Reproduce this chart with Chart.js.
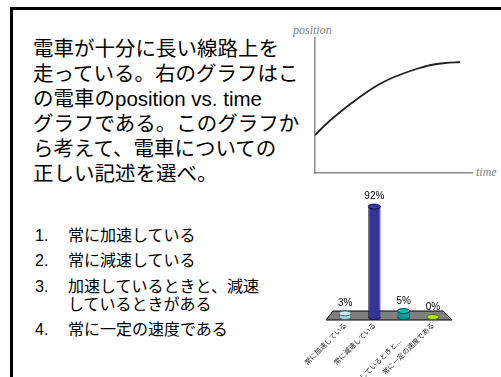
<!DOCTYPE html>
<html>
<head>
<meta charset="utf-8">
<script src="https://cdn.jsdelivr.net/npm/chart.js@4"></script>
<style>
  html, body { margin: 0; padding: 0; background: #fff; width: 501px; height: 377px; overflow: hidden; }
  body { position: relative; font-family: "Liberation Sans", "Noto Sans CJK JP", sans-serif; color: #000; }
  #frame { position: absolute; left: 10px; top: 7px; width: 600px; height: 500px; border-left: 3px solid #000; border-top: 3px solid #000; }
  #question { position: absolute; left: 33px; top: 36px; font-size: 20.5px; line-height: 25px; white-space: nowrap; }
  .item { position: absolute; left: 35px; font-size: 16px; line-height: 18px; white-space: nowrap; }
  .item .txt { position: absolute; left: 33px; top: 0; }
  .ax { position: absolute; font-family: "Liberation Serif", "DejaVu Serif", serif; font-style: italic; font-size: 12px; color: #808080; }
  #ptBox { position: absolute; left: 300px; top: 30px; width: 180px; height: 150px; }
  #pollBox { position: absolute; left: 290px; top: 185px; width: 180px; height: 200px; }
</style>
</head>
<body>
<div id="frame"></div>
<div id="question">電車が十分に長い線路上を<br>走っている。右のグラフはこ<br>の電車のposition vs. time<br>グラフである。このグラフか<br>ら考えて、電車についての<br>正しい記述を選べ。</div>

<div class="item" style="top:227px">1.<span class="txt">常に加速している</span></div>
<div class="item" style="top:252px">2.<span class="txt">常に減速している</span></div>
<div class="item" style="top:278px">3.<span class="txt">加速しているときと、減速<br>しているときがある</span></div>
<div class="item" style="top:321px">4.<span class="txt">常に一定の速度である</span></div>

<span class="ax" style="left:293px; top:23px;">position</span>
<span class="ax" style="left:476px; top:165px;">time</span>

<div id="ptBox"><canvas id="ptChart"></canvas></div>
<div id="pollBox"><canvas id="pollChart"></canvas></div>

<script>
// position vs. time のグラフ（読み取り値）
const timeVals = [0, 1.45, 2.9, 4.35, 5.8, 7.25, 8.7, 10.15, 11.6, 13.05, 14.5];
const positionVals = [3.8, 5.2, 6.4, 7.5, 8.5, 9.3, 9.9, 10.4, 10.8, 11.0, 11.1];

// 投票結果（3番目のラベルは1行下にずれて表示される）
const choices = ['常に加速している', '常に減速している', ['', '加速しているときと...　　'], '常に一定の速度である'];
const percents = [3, 92, 5, 0];
const barColors = ['#a8d4de', '#333399', '#009999', '#99cc00'];
const topColors = ['#cfeaf0', '#3a3aa6', '#22b3b3', '#b8e02a'];
const edgeColors = ['#406870', '#111144', '#004d4d', '#4d6600'];

Chart.defaults.animation = false;
Chart.defaults.font.family = '"Liberation Sans", "Noto Sans CJK JP", sans-serif';

const ptChart = new Chart(document.getElementById('ptChart'), {
    type: 'scatter',
    data: {
        datasets: [{
            data: timeVals.map((t, i) => ({ x: t, y: positionVals[i] })),
            showLine: true,
            borderColor: '#222222',
            borderWidth: 1.8,
            pointRadius: 0,
            cubicInterpolationMode: 'monotone'
        }]
    },
    options: {
        responsive: true,
        maintainAspectRatio: false,
        layout: { padding: { left: 15, top: 8, right: 8, bottom: 7 } },
        plugins: { legend: { display: false }, tooltip: { enabled: false } },
        scales: {
            x: {
                min: 0, max: 15.7,
                grid: { display: false, drawTicks: false },
                ticks: { display: false },
                border: { display: true, color: '#8c8c8c', width: 1.5 },
                afterFit: s => { s.height = 0; }
            },
            y: {
                min: 0, max: 13.5,
                grid: { display: false, drawTicks: false },
                ticks: { display: false },
                border: { display: true, color: '#8c8c8c', width: 1.5 },
                afterFit: s => { s.width = 0; }
            }
        }
    }
});

// 床（灰色の平行四辺形）
const floorPlugin = {
    id: 'floor',
    beforeDatasetsDraw(chart) {
        const a = chart.chartArea, c = chart.ctx;
        c.save();
        c.beginPath();
        c.moveTo(a.left + 2.5, a.bottom - 6);
        c.lineTo(a.right - 4.5, a.bottom - 6);
        c.lineTo(a.right + 4.5, a.bottom + 3);
        c.lineTo(a.left - 4.5, a.bottom + 3);
        c.closePath();
        c.fillStyle = '#808080';
        c.fill();
        c.strokeStyle = '#000';
        c.lineWidth = 1;
        c.stroke();
        c.restore();
    }
};

// 円柱の上面・底面と数値ラベル
const cylinderPlugin = {
    id: 'cylinder',
    afterDatasetsDraw(chart) {
        const c = chart.ctx;
        const meta = chart.getDatasetMeta(0);
        meta.data.forEach((bar, i) => {
            const w = bar.width / 2, ry = 2.5;
            c.save();
            c.lineWidth = 1;
            c.strokeStyle = edgeColors[i];
            // 底面
            c.beginPath();
            c.ellipse(bar.x, bar.base, w, ry, 0, 0, Math.PI);
            c.fillStyle = barColors[i];
            c.fill();
            c.stroke();
            // 上面
            c.beginPath();
            c.ellipse(bar.x, bar.y, w, ry, 0, 0, Math.PI * 2);
            c.fillStyle = topColors[i];
            c.fill();
            c.stroke();
            // 数値
            c.fillStyle = '#000';
            c.font = '10px "Liberation Sans", sans-serif';
            c.textAlign = 'center';
            c.textBaseline = 'bottom';
            c.fillText(percents[i] + '%', bar.x, bar.y - 5);
            c.restore();
        });
    }
};

const pollChart = new Chart(document.getElementById('pollChart'), {
    type: 'bar',
    data: {
        labels: choices,
        datasets: [{
            data: percents,
            backgroundColor: barColors,
            borderColor: edgeColors,
            borderWidth: { left: 1, right: 1, top: 0, bottom: 0 },
            barPercentage: 0.42,
            categoryPercentage: 1
        }]
    },
    options: {
        responsive: true,
        maintainAspectRatio: false,
        layout: { padding: { left: 40.5, right: 22.5, top: 0, bottom: 0 } },
        plugins: { legend: { display: false }, tooltip: { enabled: false } },
        scales: {
            x: {
                grid: { display: false, drawTicks: false },
                border: { display: false },
                ticks: {
                    minRotation: 45, maxRotation: 45, padding: 4,
                    color: '#222',
                    font: { size: 7, family: '"Noto Sans CJK JP", sans-serif' }
                },
                afterFit: s => { s.height = 68; }
            },
            y: {
                display: false,
                min: 0, max: 110
            }
        }
    },
    plugins: [floorPlugin, cylinderPlugin]
});
</script>
</body>
</html>
